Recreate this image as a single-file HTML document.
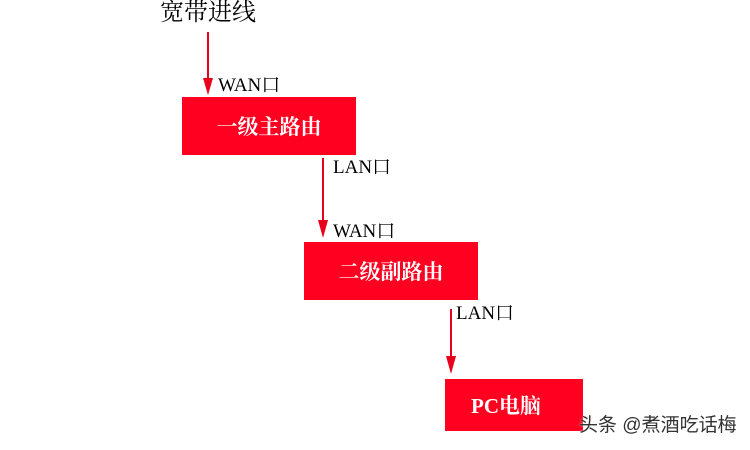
<!DOCTYPE html>
<html><head><meta charset="utf-8"><style>
body{margin:0;width:750px;height:450px;background:#fff;position:relative;overflow:hidden;font-family:"Liberation Serif","Noto Serif CJK SC",serif}
.b{position:absolute;background:#ff0020;color:#fff;font-size:21px;font-weight:bold;display:flex;align-items:center;justify-content:center}
.t{position:absolute;font-size:19px;color:#000;line-height:1;white-space:nowrap}
</style></head><body>
<div class="t" style="left:160px;top:1px;font-size:24px">宽带进线</div>
<div class="b" style="left:182px;top:97px;width:174px;height:58px">一级主路由</div>
<div class="b" style="left:304px;top:242px;width:174px;height:58px">二级副路由</div>
<div class="b" style="left:445px;top:379px;width:138px;height:52px;justify-content:flex-start;padding-left:26px;box-sizing:border-box">PC电脑</div>
<div class="t" style="left:218px;top:76px">WAN口</div>
<div class="t" style="left:333px;top:158px">LAN口</div>
<div class="t" style="left:333px;top:222px">WAN口</div>
<div class="t" style="left:456px;top:304px">LAN口</div>
<svg width="750" height="450" style="position:absolute;left:0;top:0">
<g stroke="#e8001c" stroke-width="2" fill="#e8001c">
<line x1="208" y1="32" x2="208" y2="80"/><polygon points="203,78 213,78 208,95" stroke="none"/>
<line x1="323" y1="158" x2="323" y2="222"/><polygon points="318,220 328,220 323,238" stroke="none"/>
<line x1="451" y1="309" x2="451" y2="358"/><polygon points="446,356 456,356 451,374" stroke="none"/>
</g></svg>
<div style="position:absolute;left:579px;top:416px;font-size:19px;line-height:1;white-space:nowrap;color:#333;font-family:'Liberation Sans','Noto Sans CJK SC',sans-serif;text-shadow:0 0 2px #fff">头条 @煮酒吃话梅</div>
</body></html>
